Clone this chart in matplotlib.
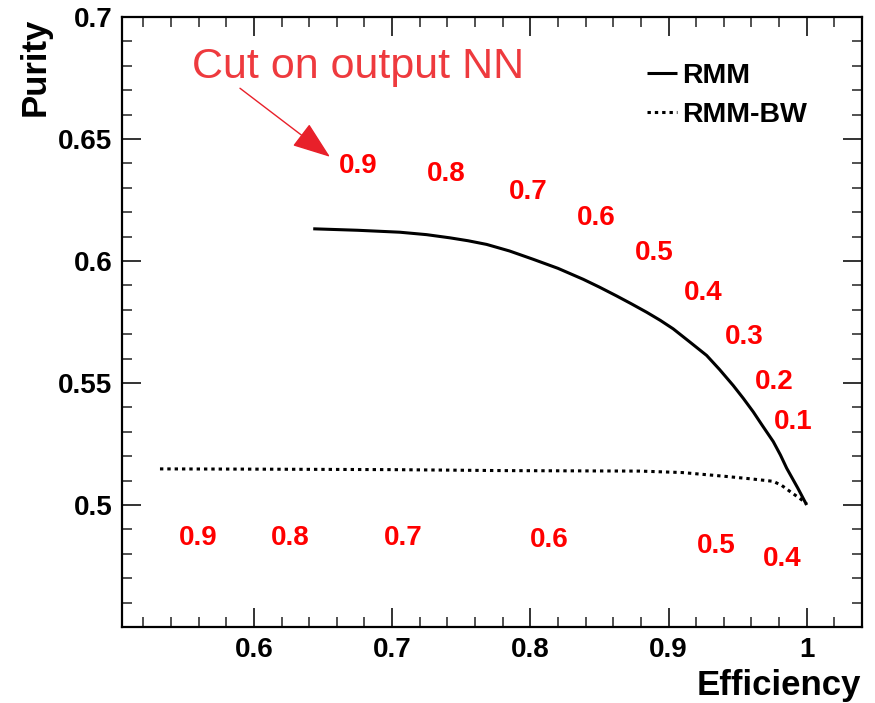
import matplotlib
matplotlib.use("Agg")
import matplotlib.pyplot as plt
from matplotlib.ticker import MultipleLocator, FixedLocator, FormatStrFormatter

# Purity vs efficiency curves
rmm_eff = [0.6429, 0.675, 0.7056, 0.725, 0.7418, 0.755, 0.7684, 0.785, 0.8021, 0.820,
           0.8383, 0.850, 0.8624, 0.873, 0.8842, 0.894, 0.9034, 0.915, 0.9276, 0.937,
           0.9468, 0.954, 0.9613, 0.968, 0.9758, 0.981, 0.9855, 0.9935, 1.000]
rmm_pur = [0.6132, 0.6126, 0.6118, 0.6108, 0.6095, 0.6083, 0.6068, 0.6041, 0.6007, 0.5970,
           0.5925, 0.5893, 0.5857, 0.5825, 0.5790, 0.5757, 0.5722, 0.5670, 0.5613, 0.5555,
           0.5490, 0.5438, 0.5382, 0.5325, 0.5260, 0.5205, 0.5151, 0.5070, 0.5000]

bw_eff = [0.532, 0.600, 0.700, 0.780, 0.8793, 0.910, 0.940, 0.960, 0.9758,
          0.982, 0.9878, 0.993, 0.9972, 1.000]
bw_pur = [0.5148, 0.5147, 0.5145, 0.5141, 0.5139, 0.5133, 0.5118, 0.5107, 0.5097,
          0.5080, 0.5056, 0.5035, 0.5018, 0.5004]

# Cut values on the network output and where they are written
cuts_rmm = ["0.9", "0.8", "0.7", "0.6", "0.5", "0.4", "0.3", "0.2", "0.1"]
cuts_rmm_x = [0.6753, 0.7390, 0.7982, 0.8474, 0.8894, 0.9248, 0.9545, 0.9762, 0.9900]
cuts_rmm_y = [0.6390, 0.6357, 0.6284, 0.6178, 0.6031, 0.5868, 0.5689, 0.5505, 0.5342]

cuts_bw = ["0.9", "0.8", "0.7", "0.6", "0.5", "0.4"]
cuts_bw_x = [0.5595, 0.6260, 0.7078, 0.8134, 0.9343, 0.9820]
cuts_bw_y = [0.4866, 0.4866, 0.4866, 0.4858, 0.4833, 0.4780]

xticks = [0.6, 0.7, 0.8, 0.9, 1.0]
yticks = [0.5, 0.55, 0.6, 0.65, 0.7]

FONT = "Liberation Sans"
plt.rcParams["font.family"] = [FONT, "DejaVu Sans"]

fig = plt.figure(figsize=(8.75, 7.03), dpi=100)
ax = fig.add_axes([0.1394, 0.1081, 0.9851 - 0.1394, 0.9758 - 0.1081])

ax.plot(rmm_eff, rmm_pur, color="black", lw=2.2, solid_capstyle="butt",
        solid_joinstyle="round", label="RMM")
ax.plot(bw_eff, bw_pur, color="black", lw=2.2, linestyle=(0, (1.1, 1.3)), label="RMM-BW")

ax.set_xlim(0.5045, 1.04)
ax.set_ylim(0.45, 0.70)

ax.xaxis.set_major_locator(FixedLocator(xticks))
ax.yaxis.set_major_locator(FixedLocator(yticks))
ax.xaxis.set_minor_locator(MultipleLocator(0.02))
ax.yaxis.set_minor_locator(MultipleLocator(0.01))
ax.xaxis.set_major_formatter(FormatStrFormatter("%g"))
ax.yaxis.set_major_formatter(FormatStrFormatter("%g"))

ax.tick_params(which="both", direction="in", top=True, right=True, color="#333333")
ax.tick_params(which="major", length=14, width=1.4, labelsize=20, pad=7)
ax.tick_params(which="minor", length=7, width=1.2)
for lab in ax.get_xticklabels() + ax.get_yticklabels():
    lab.set_fontweight("bold")
for sp in ax.spines.values():
    sp.set_linewidth(1.6)

ax.set_xlabel("Efficiency", fontsize=25, fontweight="bold", loc="right")
ax.set_ylabel("Purity", fontsize=25, fontweight="bold", loc="top")
ax.xaxis.set_label_coords(0.999, -0.069)
ax.yaxis.set_label_coords(-0.095, 0.999)

for t, x, y in zip(cuts_rmm, cuts_rmm_x, cuts_rmm_y):
    ax.text(x, y, t, color="#ff0000", fontsize=20, fontweight="bold", ha="center", va="center")
for t, x, y in zip(cuts_bw, cuts_bw_x, cuts_bw_y):
    ax.text(x, y, t, color="#ff0000", fontsize=20, fontweight="bold", ha="center", va="center")

ax.annotate("", xy=(0.655, 0.6427), xytext=(0.5899, 0.6708),
            arrowprops=dict(arrowstyle="-|>,head_length=0.6,head_width=0.22",
                            mutation_scale=40, lw=1.0, color="#e8202a",
                            shrinkA=0, shrinkB=0))
ax.text(0.6753, 0.6794, "Cut on output NN", color="#ee3a3e", fontsize=31,
        ha="center", va="center")

leg = ax.legend(loc="upper left", bbox_to_anchor=(0.7095, 0.925), frameon=False,
                borderpad=0, borderaxespad=0,
                handlelength=1.05, handletextpad=0.2, labelspacing=0.47,
                prop={"family": FONT, "weight": "bold", "size": 20.5})

fig.savefig("out.png", dpi=100)
